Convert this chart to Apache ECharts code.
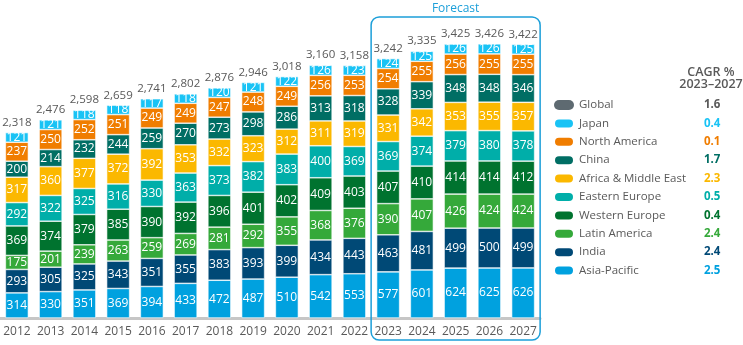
<!DOCTYPE html>
<html><head><meta charset="utf-8">
<script src="https://cdn.jsdelivr.net/npm/echarts@6/dist/echarts.min.js"></script>
<style>html,body{margin:0;padding:0;background:#fff}#c{width:743px;height:345px}</style>
</head><body><div id="c"></div>
<script>
var years = ['2012','2013','2014','2015','2016','2017','2018','2019','2020','2021','2022','2023','2024','2025','2026','2027'];
var asiaPacific   = [314,330,351,369,394,433,472,487,510,542,553,577,601,624,625,626];
var india         = [293,305,325,343,351,355,383,393,399,434,443,463,481,499,500,499];
var latinAmerica  = [175,201,239,263,259,269,281,292,355,368,376,390,407,426,424,424];
var westernEurope = [369,374,379,385,390,392,396,401,402,409,403,407,410,414,414,412];
var easternEurope = [292,322,325,316,330,363,373,382,383,400,369,369,374,379,380,378];
var africaME      = [317,360,377,372,392,353,332,323,312,311,319,331,342,353,355,357];
var china         = [200,214,232,244,259,270,273,298,286,313,318,328,339,348,348,346];
var northAmerica  = [237,250,252,251,249,249,247,248,249,256,253,254,255,256,255,255];
var japan         = [121,121,118,118,117,118,120,121,122,126,123,124,125,126,126,125];
var globalTotal   = [2318,2476,2598,2659,2741,2802,2876,2946,3018,3160,3158,3242,3335,3425,3426,3422];
var legendOrder = ['Global','Japan','North America','China','Africa & Middle East','Eastern Europe','Western Europe','Latin America','India','Asia-Pacific'];
var cagr        = ['1.6','0.4','0.1','1.7','2.3','0.5','0.4','2.4','2.4','2.5'];
var forecastStart = '2023', forecastEnd = '2027';

var colors = {
  'Global':'#5e6a71','Japan':'#19c3f5','North America':'#f07d00','China':'#006e64',
  'Africa & Middle East':'#fbb800','Eastern Europe':'#00aea9','Western Europe':'#00732f',
  'Latin America':'#35a93a','India':'#004976','Asia-Pacific':'#00a1df'
};
var stackSeries = [
  ['Asia-Pacific',asiaPacific],['India',india],['Latin America',latinAmerica],
  ['Western Europe',westernEurope],['Eastern Europe',easternEurope],['Africa & Middle East',africaME],
  ['China',china],['North America',northAmerica],['Japan',japan]
];
var FONT = '"Open Sans", "Noto Sans", sans-serif';
var series = stackSeries.map(function(s){
  return {
    name:s[0], type:'bar', stack:'t', data:s[1], barWidth:23,
    itemStyle:{color:colors[s[0]], borderColor:'#ffffff', borderWidth:0.6},
    label:{show:true, position:'inside', color:'#fff', fontSize:12, fontFamily:FONT},
    emphasis:{disabled:true}
  };
});
series.push({
  name:'Global', type:'line', data:globalTotal, symbol:'circle', symbolSize:0, showSymbol:true,
  itemStyle:{color:colors['Global']}, lineStyle:{width:0, opacity:0},
  label:{show:true, position:'top', distance:4, color:'#595959', fontSize:11.5, fontFamily:FONT,
    formatter:function(p){return p.value.toLocaleString('en-US');}},
  z:5, emphasis:{disabled:true}
});
var rich = {n:{width:125, color:'#595959', fontSize:11.5, fontFamily:FONT}};
legendOrder.forEach(function(n,i){
  rich['c'+i] = {color: n==='Global' ? '#595959' : colors[n], fontWeight:'bold', fontSize:11.5, fontFamily:FONT};
});
var chart = echarts.init(document.getElementById('c'));
chart.setOption({
  animation:false,
  grid:{left:-1, width:541, top:38, bottom:27, containLabel:false},
  xAxis:{type:'category', data:years, axisTick:{show:false},
    axisLine:{lineStyle:{color:'#c6c6c6', width:3}},
    axisLabel:{color:'#595959', fontSize:12, fontFamily:FONT, margin:8, interval:0}},
  yAxis:{type:'value', min:0, max:3500, show:false, splitLine:{show:false}},
  legend:{orient:'vertical', left:548, top:94, itemWidth:20, itemHeight:10, itemGap:6.4,
    icon:'path://M5,0 L15,0 A5,5 0 0 1 15,10 L5,10 A5,5 0 0 1 5,0 Z',
    data:legendOrder, selectedMode:false,
    textStyle:{rich:rich, fontFamily:FONT},
    formatter:function(name){var i=legendOrder.indexOf(name); return '{n|'+name+'}{c'+i+'|'+cagr[i]+'}';}},
  series:series
});
var p1 = chart.convertToPixel({xAxisIndex:0}, forecastStart);
var p2 = chart.convertToPixel({xAxisIndex:0}, forecastEnd);
var half = 17;
chart.setOption({graphic:[
  {type:'rect', shape:{x:p1-half, y:17, width:(p2-p1)+2*half, height:323, r:8},
   style:{fill:'none', stroke:'#1c9fd9', lineWidth:1.5}, z:10},
  {type:'text', x:(p1+p2)/2, y:9, style:{text:'Forecast', fill:'#1c9fd9', fontSize:12, fontFamily:FONT, align:'center', verticalAlign:'middle'}},
  {type:'text', x:711, y:78, style:{text:'CAGR %\n2023–2027', fill:'#595959', fontSize:12.5, fontWeight:600, fontFamily:FONT, align:'center', verticalAlign:'middle', lineHeight:12}}
]});
</script></body></html>
